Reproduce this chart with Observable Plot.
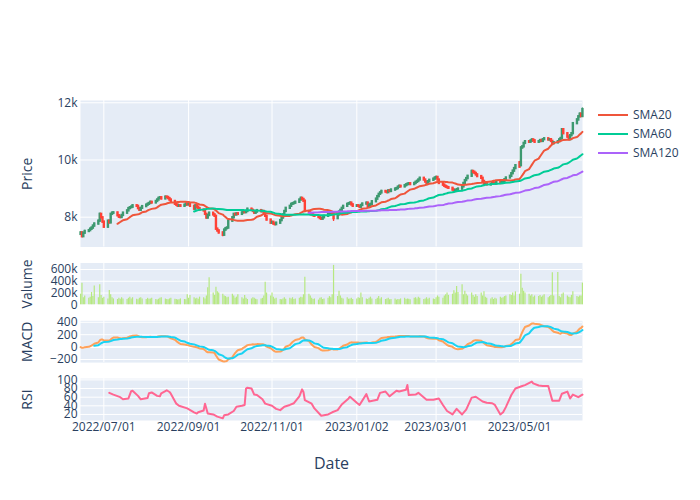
<!DOCTYPE html>
<html><head><meta charset="utf-8">
<script src="https://cdn.jsdelivr.net/npm/d3@7"></script>
<script src="https://cdn.jsdelivr.net/npm/@observablehq/plot@0.6"></script>
<style>
body{margin:0;background:#fff;}
#fig{position:relative;width:700px;height:500px;background:#fff;font-family:"Open Sans",verdana,arial,sans-serif;color:#2a3f5f;overflow:hidden;}
#fig svg{overflow:visible;}
#fig g[aria-label="y-axis label"] text{font-size:14px;}
#fig g[aria-label="x-axis label"] text{font-size:16px;}
.leg{position:absolute;left:598px;height:19px;display:flex;align-items:center;font-size:12px;color:#2a3f5f;}
.leg svg{margin-right:5px;}
</style></head><body><div id="fig"></div>
<script>
// trading days (business days) covered by the chart
const startDate = "2022-06-14", endDate = "2023-06-16";
const tickDates = ["2022-07-01","2022-09-01","2022-11-01","2023-01-02","2023-03-01","2023-05-01"];
const priceTicks = [8000, 10000, 12000];
const volumeTicks = [0, 200000, 400000, 600000];
const macdTicks = [-200, 0, 200, 400];
const rsiTicks = [20, 40, 60, 80, 100];
const seriesNames = ["SMA20", "SMA60", "SMA120"];

const opens = [
7400,7450,7320,7440,7500,7530,7580,7620,7690,7760,
7860,8100,7980,7830,7650,7860,7800,8100,8140,8150,
8050,8000,7990,8060,8140,8220,8300,8330,8350,8400,
8380,8300,8240,8310,8370,8420,8450,8480,8520,8500,
8550,8600,8660,8680,8640,8700,8690,8650,8600,8550,
8450,8420,8380,8400,8380,8420,8460,8430,8450,8380,
8280,8400,8350,8300,8250,8220,8100,7970,8060,8140,
8080,8030,7580,7520,7450,7370,7550,7600,7620,7860,
7980,8100,8080,8120,8100,8150,8180,8160,8200,8280,
8240,8200,8140,8180,8230,8190,8200,8120,8030,7900,
7790,7820,7760,7740,7790,7880,7970,8080,8200,8310,
8380,8450,8470,8490,8520,8600,8660,8620,8560,8200,
8150,8100,8080,8050,8030,7990,7950,7930,7980,8030,
8090,8140,8160,8140,7950,8080,8180,8240,8310,8380,
8450,8470,8490,8430,8380,8400,8380,8350,8410,8460,
8490,8380,8420,8450,8540,8630,8720,8800,8850,8900,
8880,8860,8920,8900,8950,8980,9000,9050,9080,9060,
9100,9130,9150,9170,9140,9180,9220,9250,9300,9360,
9300,9230,9180,9240,9290,9330,9370,9390,9300,9180,
9120,9080,9050,9030,9010,8950,8900,8930,8960,8980,
9060,9180,9280,9350,9430,9600,9570,9530,9480,9420,
9360,9250,9150,9180,9130,9150,9200,9180,9160,9220,
9180,9210,9250,9310,9370,9430,9520,9610,9700,9900,
9800,10420,10460,10580,10640,10620,10660,10700,10670,10620,
10640,10680,10650,10710,10740,10700,10710,10650,10570,10600,
10640,10700,10750,11060,10920,10800,10710,10850,10920,11270,
11400,11510,11600,11520];
const highs = [
7490,7480,7470,7540,7570,7620,7650,7720,7800,7900,
8140,8130,8000,7850,7890,7900,8130,8180,8190,8170,
8080,8040,8090,8170,8250,8330,8370,8390,8430,8430,
8400,8320,8340,8400,8450,8490,8510,8560,8550,8580,
8640,8690,8720,8710,8740,8730,8720,8680,8630,8580,
8480,8450,8430,8430,8450,8490,8490,8480,8470,8400,
8430,8420,8380,8330,8280,8240,8120,8090,8170,8160,
8110,8050,7610,7550,7480,7580,7640,7660,7890,8010,
8130,8130,8150,8150,8180,8210,8210,8230,8310,8310,
8270,8220,8210,8260,8260,8240,8220,8140,8050,7920,
7850,7840,7790,7820,7910,8000,8110,8230,8340,8410,
8480,8510,8530,8560,8630,8700,8690,8650,8580,8230,
8180,8130,8110,8080,8060,8020,7980,8010,8060,8120,
8170,8200,8190,8170,8110,8210,8270,8340,8410,8480,
8510,8530,8520,8460,8430,8430,8410,8440,8490,8530,
8520,8450,8480,8570,8660,8750,8830,8880,8940,8930,
8910,8950,8950,8980,9020,9040,9080,9120,9110,9130,
9170,9190,9200,9200,9210,9250,9290,9330,9400,9380,
9320,9250,9270,9320,9360,9400,9430,9410,9320,9200,
9150,9110,9080,9060,9040,8980,8960,8990,9020,9090,
9210,9310,9380,9460,9640,9630,9600,9560,9500,9440,
9380,9270,9210,9200,9180,9230,9230,9210,9250,9250,
9240,9280,9340,9400,9460,9550,9640,9730,9830,9950,
10460,10500,10610,10680,10680,10700,10740,10730,10700,10680,
10720,10710,10740,10780,10770,10750,10730,10670,10640,10680,
10740,10790,11100,11090,10940,10830,10880,10960,11310,11440,
11550,11640,11630,11820];
const lows = [
7360,7280,7300,7410,7470,7500,7540,7590,7660,7730,
7840,7950,7790,7620,7630,7770,7780,8070,8100,8020,
7960,7950,7970,8040,8110,8200,8270,8300,8320,8340,
8270,8210,8220,8290,8340,8390,8420,8450,8460,8470,
8520,8580,8630,8600,8610,8650,8620,8570,8520,8420,
8390,8340,8350,8350,8350,8390,8400,8400,8350,8250,
8260,8320,8270,8220,8190,8070,7930,7950,8040,8050,
8000,7550,7480,7410,7320,7350,7520,7570,7600,7830,
7960,8050,8050,8070,8070,8120,8130,8130,8180,8210,
8170,8110,8110,8150,8160,8160,8090,8000,7870,7760,
7760,7730,7700,7710,7770,7860,7950,8060,8180,8290,
8350,8420,8440,8460,8500,8580,8590,8530,8170,8120,
8070,8050,8020,8000,7960,7920,7890,7900,7960,8010,
8060,8110,8110,7850,7920,8050,8160,8220,8290,8360,
8420,8440,8400,8350,8350,8350,8310,8320,8380,8430,
8350,8350,8390,8430,8520,8610,8700,8770,8820,8850,
8820,8840,8870,8870,8920,8950,8970,9020,9030,9030,
9070,9100,9120,9110,9110,9150,9190,9230,9280,9270,
9200,9150,9160,9210,9260,9300,9340,9270,9150,9090,
9050,9020,9000,8980,8920,8860,8870,8900,8930,8960,
9040,9160,9260,9330,9410,9540,9500,9450,9390,9330,
9220,9110,9120,9100,9100,9120,9150,9130,9140,9150,
9150,9180,9230,9290,9350,9410,9500,9590,9680,9720,
9780,10380,10430,10550,10580,10590,10630,10640,10580,10590,
10610,10620,10620,10680,10670,10670,10620,10540,10540,10570,
10610,10670,10730,10890,10770,10680,10690,10820,10900,11240,
11370,11480,11490,11500];
const closes = [
7450,7320,7440,7500,7530,7580,7620,7690,7760,7860,
8100,7980,7830,7650,7860,7800,8100,8140,8150,8050,
8000,7990,8060,8140,8220,8300,8330,8350,8400,8380,
8300,8240,8310,8370,8420,8450,8480,8520,8500,8550,
8600,8660,8680,8640,8700,8690,8650,8600,8550,8450,
8420,8380,8400,8380,8420,8460,8430,8450,8380,8280,
8400,8350,8300,8250,8220,8100,7970,8060,8140,8080,
8030,7580,7520,7450,7370,7550,7600,7620,7860,7980,
8100,8080,8120,8100,8150,8180,8160,8200,8280,8240,
8200,8140,8180,8230,8190,8200,8120,8030,7900,7790,
7820,7760,7740,7790,7880,7970,8080,8200,8310,8380,
8450,8470,8490,8520,8600,8660,8620,8560,8200,8150,
8100,8080,8050,8030,7990,7950,7930,7980,8030,8090,
8140,8160,8140,7950,8080,8180,8240,8310,8380,8450,
8470,8490,8430,8380,8400,8380,8350,8410,8460,8490,
8380,8420,8450,8540,8630,8720,8800,8850,8900,8880,
8860,8920,8900,8950,8980,9000,9050,9080,9060,9100,
9130,9150,9170,9140,9180,9220,9250,9300,9360,9300,
9230,9180,9240,9290,9330,9370,9390,9300,9180,9120,
9080,9050,9030,9010,8950,8900,8930,8960,8980,9060,
9180,9280,9350,9430,9600,9570,9530,9480,9420,9360,
9250,9150,9180,9130,9150,9200,9180,9160,9220,9180,
9210,9250,9310,9370,9430,9520,9610,9700,9800,9750,
10420,10460,10580,10640,10620,10660,10700,10670,10620,10640,
10680,10650,10710,10740,10700,10710,10650,10570,10600,10640,
10700,10750,11060,10920,10800,10710,10850,10920,11270,11400,
11510,11600,11520,11760];
// volume in thousands
const volumesK = [
180,365,120,150,110,130,210,140,318,120,
343,160,110,130,100,243,170,120,100,90,
110,95,120,100,90,110,130,100,120,95,
85,110,120,100,90,110,95,100,110,90,
80,95,110,120,100,90,85,100,110,95,
90,80,85,100,90,85,170,110,160,120,
100,110,95,130,120,100,150,290,458,200,
160,300,220,200,180,150,140,120,130,180,
150,110,130,170,120,100,160,110,90,100,
120,110,95,85,100,110,150,383,200,150,
200,130,100,110,90,85,100,120,95,110,
100,120,90,100,110,130,120,170,470,180,
150,110,90,100,80,110,120,90,100,110,
140,120,170,670,140,230,150,110,100,120,
95,100,110,90,100,120,110,200,120,100,
90,110,130,100,90,110,140,100,120,90,
100,110,85,90,100,80,90,85,100,110,
90,100,95,85,110,120,100,130,110,90,
100,120,95,110,100,90,120,150,130,110,
150,170,200,160,180,240,200,313,210,343,
170,230,180,150,200,160,130,170,140,200,
150,220,130,110,100,120,90,110,100,130,
110,120,140,150,170,160,200,150,220,180,
520,280,230,200,180,150,170,130,150,140,
160,130,150,170,120,140,160,545,150,550,
140,120,180,200,150,130,120,160,220,140,
130,150,150,370];
// RSI: trading-day index -> value
const rsiIdx = [15,18,21,23,25,27,28,30,32,35,36,38,40,42,43,45,47,48,50,52,
56,59,61,62,64,65,67,69,72,74,75,78,80,82,84,86,87,88,89,91,
93,95,97,100,103,104,107,109,112,114,115,116,117,118,121,123,126,129,132,134,
137,140,141,144,146,149,151,155,157,159,162,165,167,170,171,172,175,177,181,184,
188,189,192,194,197,199,202,204,207,210,213,215,217,219,221,223,225,228,231,233,
236,237,239,242,244,247,250,252,254,256,258,260,263];
const rsiVals = [70,66,60,55,57,74,75,63,55,58,69,71,63,62,69,76,72,68,45,40,
34,25,22,25,29,45,22,20,15,11,18,20,28,38,40,42,80,82,80,66,
65,55,45,40,33,30,38,42,46,62,70,78,72,53,45,34,17,20,25,30,
43,57,61,47,42,67,50,54,70,73,62,75,73,77,88,65,66,70,54,54,
57,42,28,20,33,20,31,59,61,50,47,46,42,20,25,37,65,80,86,88,
96,92,87,86,86,52,52,68,73,57,66,60,66];

// ---------- build tables ----------
const dates = [];
for (let t = new Date(startDate + "T00:00Z"); t <= new Date(endDate + "T00:00Z"); t = new Date(+t + 864e5)) {
  const w = t.getUTCDay(); if (w !== 0 && w !== 6) dates.push(t);
}
const n = Math.min(dates.length, closes.length);
const rows = d3.range(n).map(i => ({date: dates[i], open: opens[i], high: highs[i], low: lows[i], close: closes[i], volume: volumesK[i] * 1000}));
const tickObjs = tickDates.map(s => new Date(s + "T00:00Z"));

function sma(arr, k) { return arr.map((_, i) => i < k - 1 ? null : d3.mean(arr.slice(i - k + 1, i + 1))); }
function ema(arr, k) { const a = 2 / (k + 1); let p; return arr.map((v, i) => (p = i === 0 ? v : a * v + (1 - a) * p)); }
const cl = rows.map(r => r.close);
const smaSeries = [20, 60, 120].map(k => sma(cl, k));
const e12 = ema(cl, 12), e26 = ema(cl, 26);
const macd = e12.map((v, i) => v - e26[i]);
const signal = ema(macd, 9).map((v, i) => i < 8 ? null : v);
const toLine = (vals) => rows.map((r, i) => ({date: r.date, v: vals[i]})).filter(d => d.v != null);
const rsiRows = rsiIdx.map((k, j) => ({date: dates[Math.min(k, dates.length - 1)], v: rsiVals[j]}));

// ---------- layout ----------
const FONT = '"Open Sans", verdana, arial, sans-serif';
const INC = "#3D9970", DEC = "#FF4136";
const lineColors = ["#EF553B", "#00CC96", "#AB63FA"];
const xDomain = [new Date("2022-06-13T22:40Z"), new Date("2023-06-16T01:20Z")];
const fig = document.getElementById("fig");

function panel({frameTop, frameBottom, yDomain, yTicks, yFormat, label, marks, xAxis}) {
  const top = Math.floor(frameTop) - 10;
  const mt = frameTop - top;
  const mb = xAxis ? 70 : 10;
  const h = (frameBottom - frameTop) + mt + mb;
  const svg = Plot.plot({
    width: 700, height: h,
    marginLeft: 80, marginRight: 118, marginTop: mt, marginBottom: mb,
    style: {fontFamily: FONT, fontSize: "12px", color: "#2a3f5f", background: "transparent", overflow: "visible"},
    x: xAxis ? {type: "utc", domain: xDomain} : {type: "utc", domain: xDomain, axis: null},
    y: {domain: yDomain},
    marks: [
      Plot.frame({fill: "#E5ECF6", stroke: "none"}),
      Plot.gridX(tickObjs, {stroke: "#fff", strokeOpacity: 1, strokeWidth: 1}),
      Plot.gridY(yTicks, {stroke: "#fff", strokeOpacity: 1, strokeWidth: 1}),
      ...marks,
      Plot.axisY(yTicks, {tickSize: 0, tickPadding: 3, tickFormat: yFormat, label, labelAnchor: "center", labelArrow: "none", labelOffset: 58}),
      xAxis ? Plot.axisX(tickObjs, {tickSize: 0, tickPadding: 2, tickFormat: d3.utcFormat("%Y/%m/%d"), label: "Date", labelAnchor: "center", labelArrow: "none", labelOffset: 48}) : null
    ]
  });
  svg.style.position = "absolute"; svg.style.left = "0px"; svg.style.top = top + "px";
  fig.appendChild(svg);
}

// Price panel
panel({
  frameTop: 100, frameBottom: 246.5, yDomain: [6958, 12080], yTicks: priceTicks,
  yFormat: d => (d / 1000) + "k", label: "Price",
  marks: [
    Plot.ruleX(rows, {x: "date", y1: "low", y2: "high", stroke: d => d.close >= d.open ? INC : DEC, strokeWidth: 1.3}),
    Plot.ruleX(rows, {x: "date", y1: "open", y2: "close", stroke: d => d.close >= d.open ? INC : DEC, strokeWidth: 2.4, strokeLinecap: "square"}),
    ...smaSeries.map((s, k) => Plot.line(toLine(s), {x: "date", y: "v", stroke: lineColors[k], strokeWidth: 2}))
  ]
});
// Volume panel
panel({
  frameTop: 262.5, frameBottom: 304.3, yDomain: [0, 711000], yTicks: volumeTicks,
  yFormat: d => d === 0 ? "0" : (d / 1000) + "k", label: "Valume",
  marks: [
    Plot.ruleX(rows, {x: "date", y1: 0, y2: "volume", stroke: "#B6E880", strokeWidth: 1.2})
  ]
});
// MACD panel
panel({
  frameTop: 320.3, frameBottom: 362.1, yDomain: [-250, 424], yTicks: macdTicks,
  yFormat: d => d < 0 ? "\u2212" + Math.abs(d) : String(d), label: "MACD",
  marks: [
    Plot.ruleY([0], {stroke: "#fff", strokeWidth: 2}),
    Plot.line(toLine(macd), {x: "date", y: "v", stroke: "#FFA15A", strokeWidth: 2}),
    Plot.line(toLine(signal), {x: "date", y: "v", stroke: "#19D3F3", strokeWidth: 2})
  ]
});
// RSI panel
panel({
  frameTop: 378.1, frameBottom: 420, yDomain: [6, 103], yTicks: rsiTicks,
  yFormat: d => String(d), label: "RSI", xAxis: true,
  marks: [
    Plot.line(rsiRows, {x: "date", y: "v", stroke: "#FF6692", strokeWidth: 2})
  ]
});

// Legend
seriesNames.forEach((name, k) => {
  const div = document.createElement("div");
  div.className = "leg";
  div.style.top = (105 + k * 19) + "px";
  div.innerHTML = `<svg width="30" height="4"><line x1="0" x2="30" y1="2" y2="2" stroke="${lineColors[k]}" stroke-width="2"/></svg><span>${name}</span>`;
  fig.appendChild(div);
});
</script></body></html>
